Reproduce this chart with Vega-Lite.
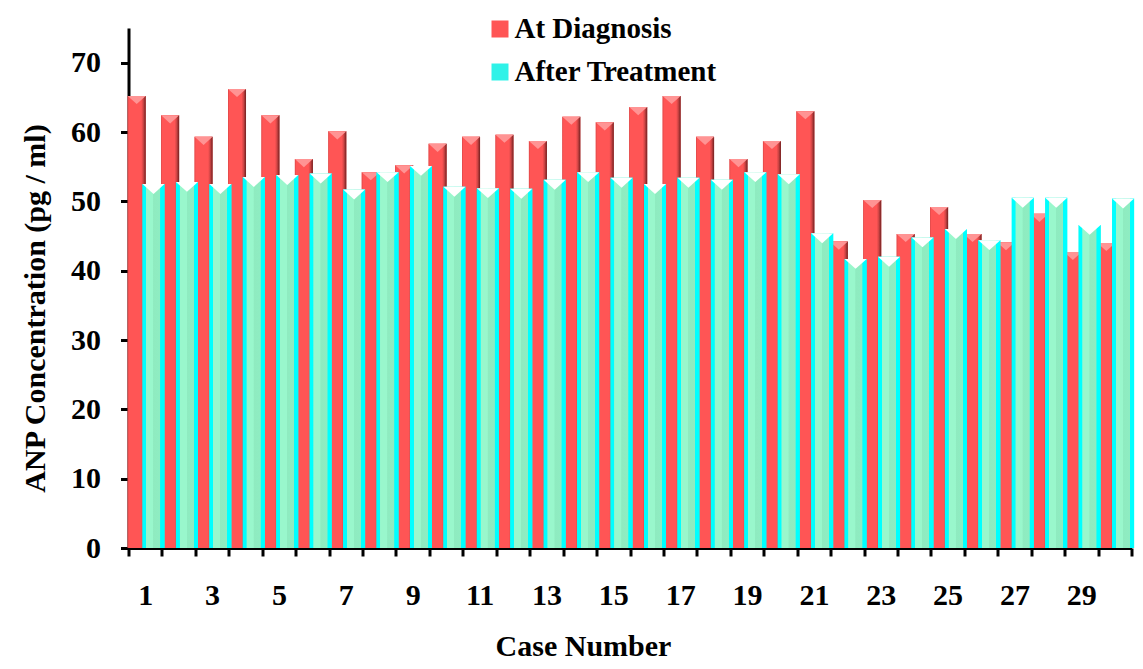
{
  "$schema": "https://vega.github.io/schema/vega-lite/v6.json",
  "width": 1003,
  "height": 520,
  "autosize": {"type": "none"},
  "padding": {"left": 128.5, "top": 28, "right": 11.5, "bottom": 121},
  "background": "white",
  "data": {"values": [
    {"case": 1, "diag": 65.2, "after": 52.5},
    {"case": 2, "diag": 62.4, "after": 52.8},
    {"case": 3, "diag": 59.3, "after": 52.5},
    {"case": 4, "diag": 66.2, "after": 53.5},
    {"case": 5, "diag": 62.4, "after": 53.8},
    {"case": 6, "diag": 56.1, "after": 54.0},
    {"case": 7, "diag": 60.1, "after": 51.7},
    {"case": 8, "diag": 54.2, "after": 54.2},
    {"case": 9, "diag": 55.2, "after": 55.1},
    {"case": 10, "diag": 58.3, "after": 52.1},
    {"case": 11, "diag": 59.3, "after": 51.9},
    {"case": 12, "diag": 59.6, "after": 51.8},
    {"case": 13, "diag": 58.7, "after": 53.1},
    {"case": 14, "diag": 62.2, "after": 54.2},
    {"case": 15, "diag": 61.4, "after": 53.4},
    {"case": 16, "diag": 63.6, "after": 52.5},
    {"case": 17, "diag": 65.2, "after": 53.4},
    {"case": 18, "diag": 59.3, "after": 53.1},
    {"case": 19, "diag": 56.1, "after": 54.2},
    {"case": 20, "diag": 58.7, "after": 53.9},
    {"case": 21, "diag": 63.0, "after": 45.4},
    {"case": 22, "diag": 44.2, "after": 41.7},
    {"case": 23, "diag": 50.2, "after": 42.0},
    {"case": 24, "diag": 45.3, "after": 44.8},
    {"case": 25, "diag": 49.2, "after": 46.0},
    {"case": 26, "diag": 45.3, "after": 44.4},
    {"case": 27, "diag": 44.1, "after": 50.5},
    {"case": 28, "diag": 48.2, "after": 50.5},
    {"case": 29, "diag": 42.7, "after": 46.6},
    {"case": 30, "diag": 44.0, "after": 50.4}
  ]},
  "encoding": {
    "x": {
      "field": "case",
      "type": "ordinal",
      "title": "Case Number",
      "scale": {"paddingInner": 0, "paddingOuter": 0},
      "axis": {
        "labelExpr": "datum.value % 2 == 1 ? datum.label : ''",
        "labelAngle": 0,
        "tickBand": "extent",
        "domainColor": "black",
        "domainWidth": 3,
        "tickColor": "black",
        "tickWidth": 3,
        "tickSize": 8,
        "labelFont": "Liberation Serif",
        "labelFontSize": 30,
        "labelFontWeight": "bold",
        "labelColor": "black",
        "labelPadding": 24,
        "labelBaseline": "top",
        "labelOverlap": false,
        "titleFont": "Liberation Serif",
        "titleFontSize": 30,
        "titleFontWeight": "bold",
        "titleColor": "black",
        "titleX": 454.5,
        "titleY": 107,
        "titleAlign": "center",
        "titleBaseline": "alphabetic"
      }
    }
  },
  "layer": [
    {
      "mark": {"type": "bar", "width": 18, "xOffset": -8.5},
      "encoding": {
        "y": {"field": "diag", "type": "quantitative", "title": "ANP Concentration (pg / ml)",
          "scale": {"domain": [0, 75], "nice": false},
          "axis": {
            "values": [0, 10, 20, 30, 40, 50, 60, 70],
            "grid": false,
            "domainColor": "black", "domainWidth": 3,
            "tickColor": "black", "tickWidth": 3, "tickSize": 8,
            "labelFont": "Liberation Serif", "labelFontSize": 30, "labelFontWeight": "bold",
            "labelColor": "black", "labelPadding": 20, "labelFlush": false, "labelOverlap": false,
            "titleFont": "Liberation Serif", "titleFontSize": 30, "titleFontWeight": "bold",
            "titleColor": "black", "titleX": -84, "titleY": 280, "titleAngle": 270,
            "titleAlign": "center", "titleBaseline": "alphabetic"
          }
        },
        "color": {
          "datum": "At Diagnosis",
          "type": "nominal",
          "scale": {"domain": ["At Diagnosis", "After Treatment"], "range": ["#ff5555", "#2ef2e8"]},
          "legend": {
            "title": null,
            "orient": "none",
            "legendX": 357,
            "legendY": -13.5,
            "direction": "vertical",
            "symbolType": "square",
            "symbolSize": 289,
            "symbolStrokeWidth": 0,
            "labelFont": "Liberation Serif",
            "labelFontSize": 29,
            "labelFontWeight": "bold",
            "labelColor": "black",
            "labelLimit": 400,
            "rowPadding": 13,
            "labelOffset": 0,
            "padding": 0
          }
        }
      }
    },
    {
      "mark": {"type": "bar", "width": 18, "xOffset": -8.5,
        "fill": {"gradient": "linear", "x1": 0, "x2": 1, "y1": 0, "y2": 0,
          "stops": [
            {"offset": 0, "color": "#d84545"},
            {"offset": 0.07, "color": "#ff5555"},
            {"offset": 0.75, "color": "#ff5555"},
            {"offset": 0.86, "color": "#d04545"},
            {"offset": 1, "color": "#702020"}
          ]}},
      "encoding": {
        "y": {"field": "diag", "type": "quantitative", "title": "ANP Concentration (pg / ml)"}
      }
    },
    {
      "mark": {"type": "point", "shape": "M -1 0 L 1 0 L 0 0.9 Z", "size": 324, "xOffset": -8.5,
        "filled": true, "color": "#ff9494", "opacity": 1, "strokeWidth": 0},
      "encoding": {
        "y": {"field": "diag", "type": "quantitative", "title": "ANP Concentration (pg / ml)"}
      }
    },
    {
      "mark": {"type": "bar", "width": 22, "xOffset": 8.3},
      "encoding": {
        "y": {"field": "after", "type": "quantitative", "title": "ANP Concentration (pg / ml)"},
        "color": {"datum": "After Treatment", "type": "nominal"}
      }
    },
    {
      "mark": {"type": "bar", "width": 22, "xOffset": 8.3,
        "fill": {"gradient": "linear", "x1": 0, "x2": 1, "y1": 0, "y2": 0,
          "stops": [
            {"offset": 0, "color": "#00ffff"},
            {"offset": 0.16, "color": "#00ffff"},
            {"offset": 0.18, "color": "#99f7cc"},
            {"offset": 0.48, "color": "#99f7cc"},
            {"offset": 0.5, "color": "#8febc0"},
            {"offset": 0.8, "color": "#8eedc2"},
            {"offset": 0.82, "color": "#00ffff"},
            {"offset": 1, "color": "#00ffff"}
          ]}},
      "encoding": {
        "y": {"field": "after", "type": "quantitative", "title": "ANP Concentration (pg / ml)"}
      }
    },
    {
      "mark": {"type": "point", "shape": "M -1 0 L 1 0 L 0 0.9 Z", "size": 484, "xOffset": 8.3,
        "filled": true, "color": "#ffffff", "opacity": 1, "strokeWidth": 0},
      "encoding": {
        "y": {"field": "after", "type": "quantitative", "title": "ANP Concentration (pg / ml)"}
      }
    }
  ],
  "config": {
    "view": {"stroke": null}
  }
}
